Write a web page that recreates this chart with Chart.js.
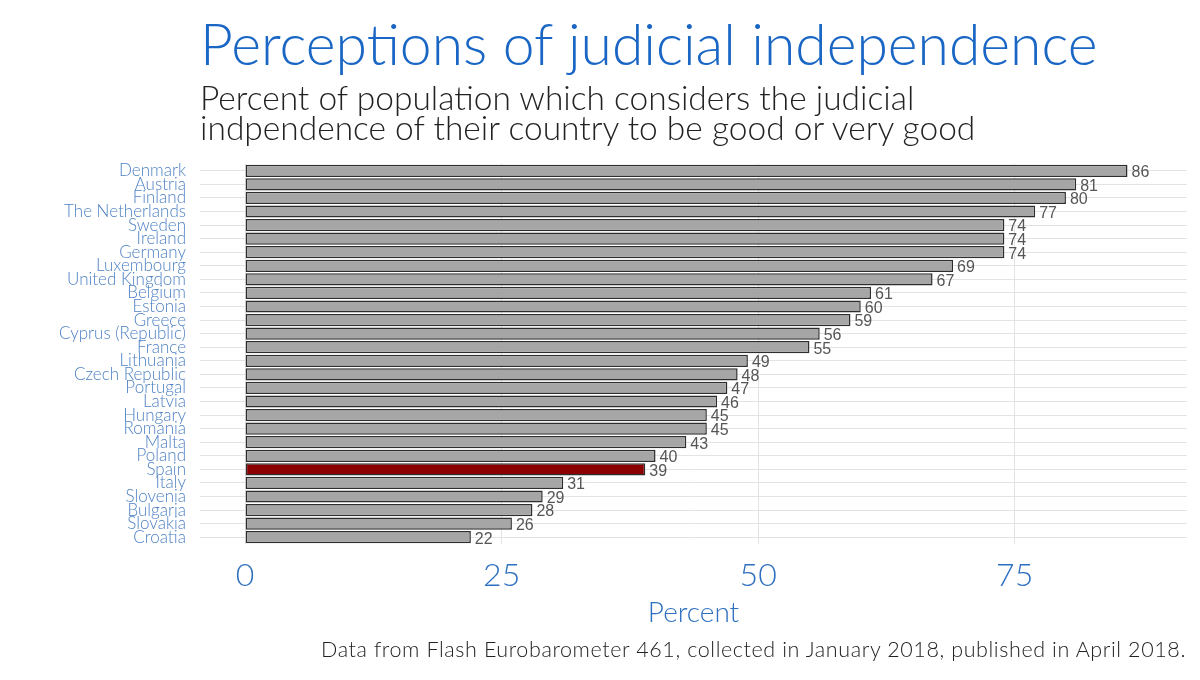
<!DOCTYPE html>
<html>
<head>
<meta charset="utf-8">
<script src="https://cdn.jsdelivr.net/npm/chart.js@4"></script>
<style>
  body { margin: 0; background: #fff; }
  #wrap { position: relative; width: 1200px; height: 680px; overflow: hidden; }
  #chart { position: absolute; left: 0; top: 0; }
  .txt { position: absolute; font-family: Lato, sans-serif; font-weight: 300; white-space: nowrap; }
  #title { left: 200px; top: 9px; font-size: 57px; color: #1a66c4; }
  #subtitle { left: 200px; top: 82px; font-size: 33.5px; line-height: 30px; color: #222; }
  #caption { right: 14px; top: 636px; font-size: 21.5px; letter-spacing: 0.6px; color: #222; }
</style>
</head>
<body>
<div id="wrap">
  <canvas id="chart" width="1200" height="680"></canvas>
  <div class="txt" id="title">Perceptions of judicial independence</div>
  <div class="txt" id="subtitle">Percent of population which considers the judicial<br>indpendence of their country to be good or very good</div>
  <div class="txt" id="caption">Data from Flash Eurobarometer 461, collected in January 2018, published in April 2018.</div>
</div>
<script>
// Países e percentuais
const countries = ['Denmark', 'Austria', 'Finland', 'The Netherlands', 'Sweden', 'Ireland', 'Germany',
  'Luxembourg', 'United Kingdom', 'Belgium', 'Estonia', 'Greece', 'Cyprus (Republic)', 'France',
  'Lithuania', 'Czech Republic', 'Portugal', 'Latvia', 'Hungary', 'Romania', 'Malta', 'Poland',
  'Spain', 'Italy', 'Slovenia', 'Bulgaria', 'Slovakia', 'Croatia'];
const percents = [86, 81, 80, 77, 74, 74, 74, 69, 67, 61, 60, 59, 56, 55, 49, 48, 47, 46, 45, 45, 43, 40, 39, 31, 29, 28, 26, 22];
const highlight = 'Spain';
const xTicks = [0, 25, 50, 75];

const barColors = countries.map(c => c === highlight ? '#8b0000' : '#a6a6a6');

// Rótulos de valor no fim de cada barra
const valueLabels = {
  id: 'valueLabels',
  afterDatasetsDraw(chart) {
    const ctx = chart.ctx;
    const meta = chart.getDatasetMeta(0);
    ctx.save();
    ctx.font = '16px "Liberation Sans", Arial, sans-serif';
    ctx.fillStyle = '#555555';
    ctx.textAlign = 'left';
    ctx.textBaseline = 'middle';
    meta.data.forEach((bar, i) => {
      ctx.fillText(String(percents[i]), bar.x + 4, bar.y + 2);
    });
    ctx.restore();
  }
};

const ctx = document.getElementById('chart').getContext('2d');
const chart = new Chart(ctx, {
  type: 'bar',
  data: {
    labels: countries,
    datasets: [{
      data: percents,
      backgroundColor: barColors,
      borderColor: '#2e2e2e',
      borderWidth: 1.5,
      borderSkipped: false,
      barPercentage: 0.9,
      categoryPercentage: 1
    }]
  },
  options: {
    indexAxis: 'y',
    responsive: false,
    animation: false,
    layout: { padding: { top: 164, right: 13, bottom: 0, left: 0 } },
    plugins: {
      legend: { display: false },
      tooltip: { enabled: false }
    },
    scales: {
      x: {
        min: -4.4,
        max: 91.8,
        afterBuildTicks(axis) { axis.ticks = xTicks.map(v => ({ value: v })); },
        afterFit(axis) { axis.height = 136; },
        grid: { color: '#e3e3e3', lineWidth: 1, drawTicks: false },
        border: { display: false },
        ticks: {
          padding: 12,
          color: '#2d6fc0',
          font: { family: 'Lato', weight: 300, size: 32 }
        },
        title: {
          display: true,
          text: 'Percent',
          color: '#2d6fc0',
          font: { family: 'Lato', weight: 300, size: 28 },
          padding: { top: 0, bottom: 50 }
        }
      },
      y: {
        afterFit(axis) { axis.width = 200; },
        grid: { color: '#e3e3e3', lineWidth: 1, drawTicks: false, offset: false },
        border: { display: false },
        ticks: {
          padding: 14,
          color: '#4f82c4',
          font: { family: 'Lato', weight: 300, size: 17, lineHeight: 1 },
          autoSkip: false
        }
      }
    }
  },
  plugins: [valueLabels]
});
</script>
</body>
</html>
